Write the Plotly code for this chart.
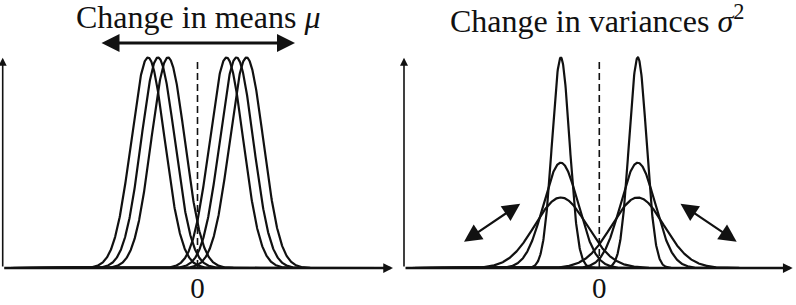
import numpy as np
import plotly.graph_objects as go

# ---- data (x in units of 10 px, y relative to peak height) ----
mean_shift_means = [-4.95, -3.95, -2.95, 2.9, 3.9, 4.9]
mean_shift_sigma = [1.68, 1.68, 1.68, 1.68, 1.68, 1.68]
mean_shift_peaks = [1.0, 1.0, 1.0, 1.0, 1.0, 1.0]

var_shift_means = [-3.85, -3.85, -3.85, 3.85, 3.85, 3.85]
var_shift_sigma = [0.87, 1.74, 2.6, 0.87, 1.74, 2.6]
var_shift_peaks = [1.0, 0.5, 0.335, 1.0, 0.5, 0.335]

tick_vals = [0]
tick_text = ["0"]
titles = ["Change in means <i>μ</i>", "Change in variances <i>σ</i><sup>2</sup>"]

FONT = "'Liberation Serif', 'DejaVu Serif', serif"
INK = "#111111"

fig = go.Figure()
xs = np.linspace(-19, 19, 1201)


def add_curves(means, sigmas, peaks, xa, ya):
    for m, s, p in zip(means, sigmas, peaks):
        fig.add_trace(go.Scatter(
            x=xs, y=p * np.exp(-0.5 * ((xs - m) / s) ** 2), mode="lines",
            line=dict(color=INK, width=2.2), xaxis=xa, yaxis=ya,
            showlegend=False, hoverinfo="skip"))
    fig.add_trace(go.Scatter(
        x=[0, 0], y=[0.979, 0], mode="lines",
        line=dict(color=INK, width=1.6, dash="7px,4px"), xaxis=xa, yaxis=ya,
        showlegend=False, hoverinfo="skip"))


add_curves(mean_shift_means, mean_shift_sigma, mean_shift_peaks, "x", "y")
add_curves(var_shift_means, var_shift_sigma, var_shift_peaks, "x2", "y2")

YR = [-37 / 210.5, 268 / 210.5]
axis_common = dict(showgrid=False, zeroline=False, showline=False, ticks="",
                   tickvals=tick_vals, ticktext=tick_text,
                   tickfont=dict(family=FONT, size=29, color=INK),
                   anchor="free", position=37 / 305, fixedrange=True)
fig.update_layout(
    width=796, height=305, margin=dict(l=0, r=0, t=0, b=0),
    paper_bgcolor="white", plot_bgcolor="white",
    xaxis=dict(domain=[0, 0.5], range=[-19.75, 20.05], **axis_common),
    xaxis2=dict(domain=[0.5, 1], range=[-20.13, 19.67], **axis_common),
    yaxis=dict(domain=[0, 1], range=YR, visible=False, fixedrange=True),
    yaxis2=dict(domain=[0, 1], range=YR, visible=False, fixedrange=True),
)

ann = []


def arrow(xr, yr, x0, y0, x1, y1, width, size, both=False):
    d = dict(x=x1, y=y1, ax=x0, ay=y0, xref=xr, yref=yr, axref=xr, ayref=yr,
             text="", showarrow=True, arrowhead=2, arrowsize=size,
             arrowwidth=width, arrowcolor=INK)
    if both:
        d.update(arrowside="end+start", startarrowhead=2, startarrowsize=size)
    ann.append(d)


# axes arrows
arrow("x", "y", -19.48, 0, 19.55, 0, 2.6, 0.75)
arrow("x", "y", -19.48, 0, -19.48, 0.999, 1.6, 1.0)
arrow("x2", "y2", -19.53, 0, 19.34, 0, 2.6, 0.75)
arrow("x2", "y2", -19.53, 0, -19.53, 0.999, 1.6, 1.0)

# double arrows
arrow("x", "y", -9.75, 1.069, 9.75, 1.069, 3, 1.2, both=True)
arrow("x2", "y2", -7.76, 0.31, -13.53, 0.125, 2.2, 1.6, both=True)
arrow("x2", "y2", 7.97, 0.31, 13.74, 0.125, 2.2, 1.6, both=True)

# titles
ann.append(dict(x=0, y=1.192, xref="x", yref="y", text=titles[0], showarrow=False,
                font=dict(family=FONT, size=32, color=INK), xanchor="center", yanchor="middle"))
ann.append(dict(x=-0.28, y=1.185, xref="x2", yref="y2", text=titles[1], showarrow=False,
                font=dict(family=FONT, size=32, color=INK), xanchor="center", yanchor="middle"))

fig.update_layout(annotations=ann)
fig.write_html("out.html", config={"displayModeBar": False, "staticPlot": True},
               post_script="document.body.style.margin='0';document.body.style.overflow='hidden';")
